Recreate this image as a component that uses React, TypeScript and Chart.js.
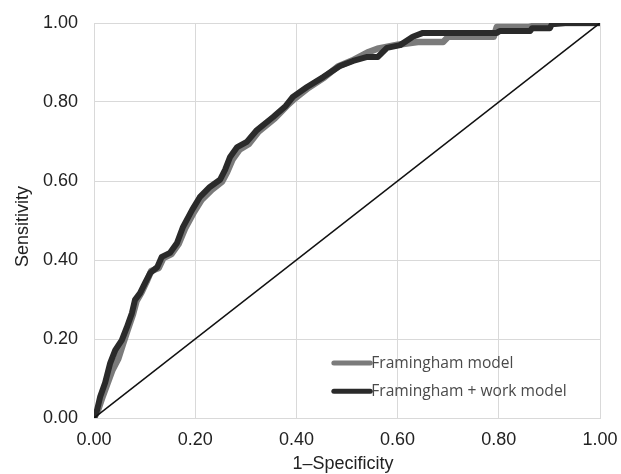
import { useEffect, useRef } from "react";
import { Chart, registerables } from "chart.js";

Chart.register(...registerables);

// Framingham model ROC curve (1-specificity, sensitivity)
const framinghamFpr = [0, 0.008, 0.016, 0.026, 0.036, 0.048, 0.058, 0.067, 0.077, 0.084, 0.094, 0.104, 0.113, 0.128, 0.137, 0.153, 0.167, 0.18, 0.198, 0.213, 0.233, 0.253, 0.263, 0.274, 0.288, 0.306, 0.325, 0.357, 0.381, 0.396, 0.424, 0.455, 0.482, 0.51, 0.54, 0.56, 0.6, 0.64, 0.69, 0.7, 0.79, 0.796, 0.86, 0.89, 1];
const framinghamTpr = [0, 0.02, 0.05, 0.085, 0.12, 0.15, 0.19, 0.225, 0.262, 0.296, 0.318, 0.345, 0.372, 0.38, 0.405, 0.415, 0.44, 0.48, 0.522, 0.553, 0.578, 0.598, 0.622, 0.655, 0.68, 0.694, 0.725, 0.758, 0.79, 0.808, 0.836, 0.862, 0.89, 0.905, 0.925, 0.935, 0.945, 0.952, 0.952, 0.965, 0.965, 0.99, 0.99, 1, 1];

// Framingham + work model ROC curve
const workFpr = [0, 0.006, 0.012, 0.022, 0.032, 0.042, 0.055, 0.065, 0.075, 0.081, 0.091, 0.101, 0.111, 0.125, 0.134, 0.15, 0.164, 0.176, 0.194, 0.209, 0.229, 0.249, 0.259, 0.269, 0.283, 0.302, 0.322, 0.354, 0.379, 0.393, 0.421, 0.453, 0.486, 0.512, 0.54, 0.561, 0.579, 0.605, 0.63, 0.65, 0.796, 0.802, 0.862, 0.866, 0.901, 0.905, 0.931, 1];
const workTpr = [0, 0.02, 0.053, 0.089, 0.139, 0.172, 0.197, 0.23, 0.266, 0.299, 0.316, 0.342, 0.367, 0.382, 0.408, 0.418, 0.443, 0.484, 0.527, 0.559, 0.585, 0.603, 0.628, 0.661, 0.686, 0.699, 0.729, 0.762, 0.79, 0.813, 0.838, 0.863, 0.891, 0.904, 0.914, 0.914, 0.937, 0.944, 0.965, 0.975, 0.975, 0.98, 0.98, 0.987, 0.987, 0.997, 1, 1];

// chance line
const chanceFpr = [0, 1];
const chanceTpr = [0, 1];

const axisTicks = [0, 0.2, 0.4, 0.6, 0.8, 1];
const seriesLabels = ["Framingham model", "Framingham + work model"];
const seriesColors = ["#7b7b7b", "#2a2a2a"];
const xTitle = "1\u2013Specificity";
const yTitle = "Sensitivity";

const FONT = '"Liberation Sans", Arial, sans-serif';

const toPoints = (xs: number[], ys: number[]) => xs.map((x, i) => ({ x, y: ys[i] }));

const insideLegend = {
  id: "insideLegend",
  afterDatasetsDraw(chart: any) {
    const { ctx, scales } = chart;
    const xs = scales.x;
    const ys = scales.y;
    const lineStart = xs.getPixelForValue(0.474);
    const lineEnd = xs.getPixelForValue(0.546);
    const rows = [0.139, 0.068];
    ctx.save();
    seriesLabels.forEach((label, i) => {
      const py = ys.getPixelForValue(rows[i]);
      ctx.strokeStyle = seriesColors[i];
      ctx.lineWidth = 5;
      ctx.lineCap = "round";
      ctx.beginPath();
      ctx.moveTo(lineStart, py);
      ctx.lineTo(lineEnd, py);
      ctx.stroke();
      ctx.fillStyle = "#4a4a4a";
      ctx.font = '15.6px "Open Sans"';
      ctx.textBaseline = "middle";
      ctx.textAlign = "left";
      ctx.fillText(label, lineEnd + 1, py);
    });
    ctx.restore();
  },
};

const axisTitles = {
  id: "axisTitles",
  afterDraw(chart: any) {
    const { ctx, chartArea } = chart;
    ctx.save();
    ctx.fillStyle = "#222222";
    ctx.font = `18px ${FONT}`;
    ctx.textAlign = "center";
    ctx.textBaseline = "middle";
    ctx.fillText(xTitle, (chartArea.left + chartArea.right) / 2 - 4, 464);
    ctx.translate(23, (chartArea.top + chartArea.bottom) / 2 + 6);
    ctx.rotate(-Math.PI / 2);
    ctx.fillText(yTitle, 0, 0);
    ctx.restore();
  },
};

export default function App() {
  const canvasRef = useRef<HTMLCanvasElement | null>(null);

  useEffect(() => {
    if (!canvasRef.current) return;
    const tickFont = { family: FONT, size: 18 };
    const chart = new Chart(canvasRef.current, {
      type: "line",
      data: {
        datasets: [
          {
            label: "chance",
            data: toPoints(chanceFpr, chanceTpr),
            borderColor: "#111111",
            borderWidth: 1.5,
            pointRadius: 0,
          },
          {
            label: seriesLabels[1],
            data: toPoints(workFpr, workTpr),
            borderColor: seriesColors[1],
            borderWidth: 6,
            pointRadius: 0,
            borderJoinStyle: "round",
            borderCapStyle: "round",
          },
          {
            label: seriesLabels[0],
            data: toPoints(framinghamFpr, framinghamTpr),
            borderColor: seriesColors[0],
            borderWidth: 6.5,
            pointRadius: 0,
            borderJoinStyle: "round",
            borderCapStyle: "round",
          },
        ],
      },
      options: {
        animation: false,
        responsive: false,
        maintainAspectRatio: false,
        layout: { padding: { top: 23, right: 21, left: 0, bottom: 0 } },
        plugins: { legend: { display: false }, tooltip: { enabled: false } },
        scales: {
          x: {
            type: "linear",
            min: 0,
            max: 1,
            afterBuildTicks: (scale: any) => {
              scale.ticks = axisTicks.map((v) => ({ value: v }));
            },
            afterFit: (scale: any) => {
              scale.height = 56;
              scale.paddingLeft = 0;
              scale.paddingRight = 0;
            },
            grid: { color: "#d9d9d9", drawTicks: false },
            border: { color: "#d9d9d9" },
            ticks: {
              padding: 11,
              color: "#222222",
              font: tickFont,
              maxRotation: 0,
              callback: (v: any) => Number(v).toFixed(2),
            },
          },
          y: {
            type: "linear",
            min: 0,
            max: 1,
            afterBuildTicks: (scale: any) => {
              scale.ticks = axisTicks.map((v) => ({ value: v }));
            },
            afterFit: (scale: any) => {
              scale.width = 94;
              scale.paddingTop = 0;
              scale.paddingBottom = 0;
            },
            grid: { color: "#d9d9d9", drawTicks: false },
            border: { color: "#d9d9d9" },
            ticks: {
              padding: 16,
              color: "#222222",
              font: tickFont,
              callback: (v: any) => Number(v).toFixed(2),
            },
          },
        },
      },
      plugins: [insideLegend, axisTitles],
    });
    return () => chart.destroy();
  }, []);

  return (
    <div style={{ position: "fixed", left: 0, top: 0, width: 621, height: 474, background: "#ffffff" }}>
      <canvas ref={canvasRef} width={621} height={474} style={{ width: 621, height: 474, display: "block" }} />
    </div>
  );
}
